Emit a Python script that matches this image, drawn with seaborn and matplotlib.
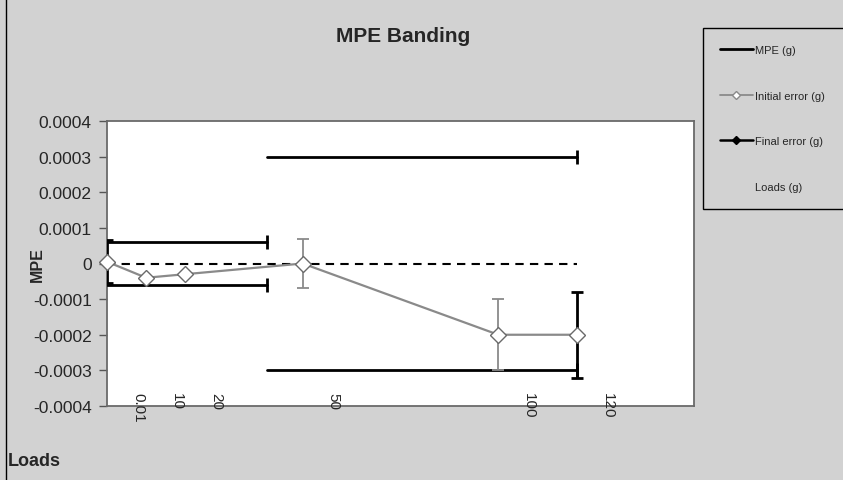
import matplotlib
matplotlib.use('Agg')
import matplotlib.pyplot as plt
from matplotlib.lines import Line2D
from matplotlib.patches import Rectangle
import seaborn as sns
import pandas as pd

# Cargas (g) y errores
loads = [0.01, 10, 20, 50, 100, 120]
load_labels = ['0.01', '10', '20', '50', '100', '120']
initial_error = [0.000005, -0.00004, -0.00003, 0.0, -0.0002, -0.0002]
final_error = [0, 0, 0, 0, 0, 0]

# barras de error (abajo, arriba) y su color
err_low = [0.00006, 0, 0, 0.00007, 0.0001, 0.00012]
err_high = [0.00006, 0, 0, 0.00007, 0.0001, 0.00012]
err_colors = ['black', 'black', 'black', '#8a8a8a', '#8a8a8a', 'black']

# bandas MPE: inicio, fin, valor
mpe_start = [0, 41]
mpe_end = [41, 120]
mpe_value = [0.00006, 0.0003]

y_ticks = [0.0004, 0.0003, 0.0002, 0.0001, 0, -0.0001, -0.0002, -0.0003, -0.0004]
y_tick_labels = ['0.0004', '0.0003', '0.0002', '0.0001', '0',
                 '-0.0001', '-0.0002', '-0.0003', '-0.0004']

df = pd.DataFrame({'Load': loads, 'Initial': initial_error, 'Final': final_error})

sns.set_style('white')
plt.rcParams['font.family'] = ['Liberation Sans', 'DejaVu Sans']

bg = '#d2d2d2'
fig = plt.figure(figsize=(8.43, 4.81), dpi=100, facecolor=bg)
ax = fig.add_axes([107 / 843, 1 - 407 / 481, 587 / 843, 285 / 481])
ax.set_facecolor('white')

# bandas MPE con tope a la derecha
for x0, x1, v in zip(mpe_start, mpe_end, mpe_value):
    for sign in (1, -1):
        ax.plot([x0, x1], [sign * v, sign * v], color='black', lw=2, zorder=3)
        ax.plot([x1], [sign * v], marker='|', markersize=10, mew=2, color='black', zorder=3)

# error final (linea discontinua)
sns.lineplot(data=df, x='Load', y='Final', ax=ax, color='black', lw=1.5,
             linestyle=(0, (4, 3)), legend=False, zorder=2)

# barras de error
for x, y, lo, hi, c in zip(loads, initial_error, err_low, err_high, err_colors):
    if lo == 0 and hi == 0:
        continue
    lw = 2 if c == 'black' else 1.3
    ax.errorbar([x], [y], yerr=[[lo], [hi]], fmt='none', ecolor=c,
                elinewidth=lw, capsize=4, capthick=lw, zorder=4)

# error inicial
sns.lineplot(data=df, x='Load', y='Initial', ax=ax, color='#8a8a8a', lw=1.6,
             marker='D', markersize=8, markerfacecolor='white',
             markeredgecolor='#6a6a6a', markeredgewidth=1, legend=False, zorder=5)
for l in ax.lines[-1:]:
    l.set_clip_on(False)

# etiquetas de cargas
for x, lab in zip(loads, load_labels):
    ax.annotate(lab, xy=(x, -0.0004), xytext=(31, 14), textcoords='offset pixels',
                rotation=-90, rotation_mode='anchor', ha='left', va='center',
                fontsize=11)

ax.set_xlim(0, 150)
ax.set_ylim(-0.0004, 0.0004)
ax.set_xticks([])
ax.set_yticks(y_ticks)
ax.set_yticklabels(y_tick_labels, fontsize=12.5)
ax.tick_params(axis='y', direction='out', length=6, width=1, color='#555555', pad=5, left=True)
ax.set_xlabel('')
ax.set_ylabel('MPE', fontsize=11.5, fontweight='bold')
ax.yaxis.set_label_coords(-0.105, 0.5)
for s in ax.spines.values():
    s.set_color('#6a6a6a')
    s.set_linewidth(1.3)

fig.text(403 / 843, 1 - 37 / 481, 'MPE Banding', ha='center', va='center',
         fontsize=15, fontweight='bold')
fig.text(8 / 843, 1 - 462 / 481, 'Loads', ha='left', va='center',
         fontsize=13, fontweight='bold')

handles = [
    Line2D([], [], color='black', lw=2),
    Line2D([], [], color='#8a8a8a', lw=1.3, marker='D', markersize=4,
           markerfacecolor='white', markeredgecolor='#8a8a8a'),
    Line2D([], [], color='black', lw=1.8, marker='D', markersize=4),
    Line2D([], [], color='none'),
]
labels = ['MPE (g)', 'Initial error (g)', 'Final error (g)', 'Loads (g)']
leg = fig.legend(handles, labels, loc='upper left',
                 bbox_to_anchor=(697 / 843, 1 - 28 / 481, 170 / 843, 0.01),
                 mode='expand', fontsize=8, labelspacing=3.2, borderpad=1.55,
                 handlelength=3.0, handletextpad=0.2, fancybox=False,
                 framealpha=1, facecolor=bg, edgecolor='black')
leg.get_frame().set_linewidth(1)

# borde izquierdo del area del grafico
fig.add_artist(Rectangle((6 / 843, -0.01), 1.0, 1.05, transform=fig.transFigure,
                         fill=False, edgecolor='black', lw=1))

fig.savefig('out.png', dpi=100, facecolor=bg)
